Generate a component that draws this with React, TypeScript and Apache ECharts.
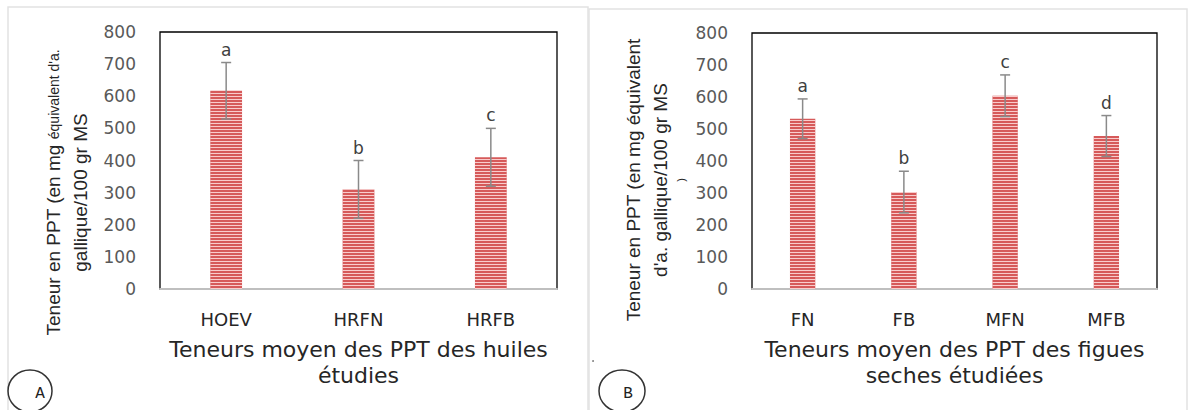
import React, { useEffect, useRef } from "react";
import * as echarts from "echarts";

const categoriesA = ["HOEV", "HRFN", "HRFB"];
const meansA = [617, 310, 410];
const errorsA = [88, 90, 90];
const lettersA = ["a", "b", "c"];

const categoriesB = ["FN", "FB", "MFN", "MFB"];
const meansB = [532, 303, 604, 478];
const errorsB = [62, 65, 65, 64];
const lettersB = ["a", "b", "c", "d"];

const yMin = 0;
const yMax = 800;
const yInterval = 100;

const titleA = "Teneurs moyen des PPT des huiles\nétudies";
const titleB = "Teneurs moyen des PPT des figues\nseches étudiées";
const yNameA = "{a|Teneur en PPT (en mg }{s|équivalent d'a.}\n{a|gallique/100 gr MS}";
const yNameB = "{a|Teneur en PPT (en mg équivalent}\n{a|d'a. gallique/100 gr MS}\n{t|)}";

const SANS = "'DejaVu Sans', sans-serif";
const ARIAL = "'Liberation Sans', Arial, sans-serif";

function errSeries(means: number[], errs: number[], letters: string[], idx: number) {
  return {
    type: "custom",
    xAxisIndex: idx,
    yAxisIndex: idx,
    z: 5,
    encode: { x: 0, y: 1 },
    data: means.map((m, i) => [i, m, errs[i]]),
    renderItem: (params: any, api: any) => {
      const x = api.value(0);
      const m = api.value(1);
      const e = api.value(2);
      const hi = api.coord([x, m + e]);
      const lo = api.coord([x, m - e]);
      const cap = 5;
      const st = { stroke: "#8a8a8a", lineWidth: 1.5 };
      return {
        type: "group",
        children: [
          { type: "line", shape: { x1: hi[0], y1: hi[1], x2: lo[0], y2: lo[1] }, style: st },
          { type: "line", shape: { x1: hi[0] - cap, y1: hi[1], x2: hi[0] + cap, y2: hi[1] }, style: st },
          { type: "line", shape: { x1: lo[0] - cap, y1: lo[1], x2: lo[0] + cap, y2: lo[1] }, style: st },
          {
            type: "text",
            x: hi[0],
            y: hi[1] - 13,
            style: {
              text: letters[params.dataIndex],
              textAlign: "center",
              textVerticalAlign: "middle",
              fill: "#404040",
              font: `17px ${SANS}`,
            },
          },
        ],
      };
    },
  };
}

const barStyle = {
  color: "#d65a5a",
  decal: {
    symbol: "rect",
    symbolSize: 1,
    color: "rgba(255,225,225,0.85)",
    dashArrayX: [1, 0],
    dashArrayY: [1, 2],
    rotation: 0,
  },
};

export default function App() {
  const ref = useRef<HTMLDivElement>(null);
  useEffect(() => {
    if (!ref.current) return;
    const chart = echarts.init(ref.current, null, { renderer: "svg" });
    const yAxisBase = (gridIndex: number, name: string, gap: number, shift: number) => ({
      type: "value",
      gridIndex,
      min: yMin,
      max: yMax,
      interval: yInterval,
      axisLine: { show: false },
      axisTick: { show: false },
      splitLine: { show: false },
      axisLabel: { color: "#595959", fontSize: 17, fontFamily: SANS, margin: 24 },
      name,
      nameLocation: "middle",
      nameRotate: 90,
      nameGap: gap,
      nameTextStyle: {
        align: "center",
        padding: [0, shift, 0, 0],
        rich: {
          a: { fontSize: 19, fontFamily: ARIAL, color: "#262626", lineHeight: 27 },
          s: { fontSize: 14, fontFamily: ARIAL, color: "#262626", lineHeight: 27 },
          t: { fontSize: 11, fontFamily: ARIAL, color: "#262626", lineHeight: 13 },
        },
      },
    });
    const xAxisBase = (gridIndex: number, data: string[], title: string) => ({
      type: "category",
      gridIndex,
      data,
      axisLine: { show: true, lineStyle: { color: "#bfbfbf", width: 2 } },
      axisTick: { show: false },
      axisLabel: { color: "#262626", fontSize: 18, fontFamily: SANS, margin: 21 },
      name: title,
      nameLocation: "middle",
      nameGap: 47,
      nameTextStyle: { color: "#262626", fontSize: 22, fontFamily: SANS, lineHeight: 26 },
    });
    chart.setOption({
      animation: false,
      backgroundColor: "#ffffff",
      grid: [
        { left: 160, top: 32, width: 397, height: 257, show: true, borderColor: "#000", borderWidth: 1.3, backgroundColor: "transparent" },
        { left: 752, top: 33, width: 405, height: 256, show: true, borderColor: "#000", borderWidth: 1.3, backgroundColor: "transparent" },
      ],
      xAxis: [xAxisBase(0, categoriesA, titleA), xAxisBase(1, categoriesB, titleB)],
      yAxis: [yAxisBase(0, yNameA, 66, 64), yAxisBase(1, yNameB, 65, 38)],
      series: [
        { type: "bar", xAxisIndex: 0, yAxisIndex: 0, data: meansA, barWidth: "24%", itemStyle: barStyle },
        { type: "bar", xAxisIndex: 1, yAxisIndex: 1, data: meansB, barWidth: "25%", itemStyle: barStyle },
        errSeries(meansA, errorsA, lettersA, 0),
        errSeries(meansB, errorsB, lettersB, 1),
      ],
      graphic: [
        { type: "rect", shape: { x: 8, y: 7, width: 580, height: 420 }, style: { fill: "none", stroke: "#e2e2e2", lineWidth: 1.5 }, silent: true },
        { type: "rect", shape: { x: 589, y: 9, width: 598, height: 420 }, style: { fill: "none", stroke: "#e2e2e2", lineWidth: 1.5 }, silent: true },
        { type: "ellipse", shape: { cx: 30, cy: 391, rx: 22, ry: 21 }, style: { fill: "none", stroke: "#333", lineWidth: 1.5 } },
        { type: "text", x: 40, y: 394, style: { text: "A", textAlign: "center", textVerticalAlign: "middle", fill: "#222", font: "16px 'Liberation Mono', monospace" } },
        { type: "ellipse", shape: { cx: 622, cy: 391, rx: 23, ry: 21 }, style: { fill: "none", stroke: "#333", lineWidth: 1.5 } },
        { type: "text", x: 628, y: 394, style: { text: "B", textAlign: "center", textVerticalAlign: "middle", fill: "#222", font: "16px 'Liberation Mono', monospace" } },
        { type: "circle", shape: { cx: 593, cy: 361, r: 0.8 }, style: { fill: "#666" } },
      ],
    });
    return () => chart.dispose();
  }, []);
  return (
    <div
      ref={ref}
      style={{ position: "absolute", left: 0, top: 0, width: 1188, height: 410, background: "#fff" }}
    />
  );
}
